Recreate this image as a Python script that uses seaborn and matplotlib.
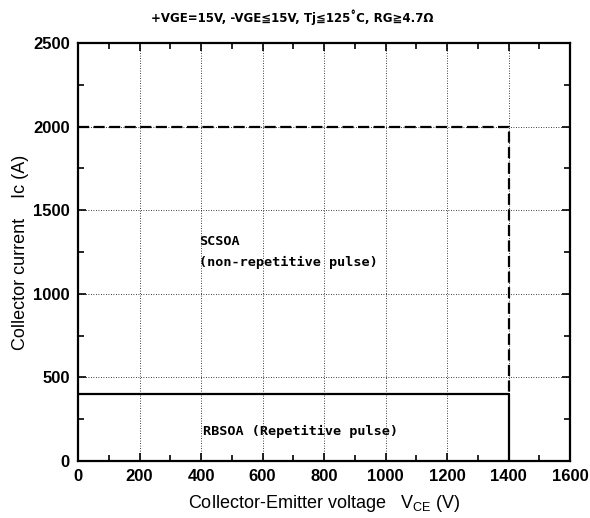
import matplotlib
matplotlib.use('Agg')
import matplotlib.pyplot as plt
import seaborn as sns
import pandas as pd
from matplotlib.ticker import MultipleLocator

# データ (読み取り値)
rbsoa_vce = [0, 1400, 1400]
rbsoa_ic = [400, 400, 0]
scsoa_vce = [0, 1400, 1400]
scsoa_ic = [2000, 2000, 400]

x_ticks = [0, 200, 400, 600, 800, 1000, 1200, 1400, 1600]
y_ticks = [0, 500, 1000, 1500, 2000, 2500]

title_text = '+VGE=15V, -VGE≦15V, Tj≦125˚C, RG≧4.7Ω'

sns.set_theme(style='ticks')
plt.rcParams['font.family'] = ['Liberation Sans', 'DejaVu Sans']
plt.rcParams['text.color'] = 'black'
plt.rcParams['axes.labelcolor'] = 'black'
plt.rcParams['xtick.color'] = 'black'
plt.rcParams['ytick.color'] = 'black'

fig = plt.figure(figsize=(5.9, 5.18), dpi=100)
ax = fig.add_axes([78 / 590, 1 - 461 / 518, 492 / 590, 418 / 518])

rb = pd.DataFrame({'vce': rbsoa_vce, 'ic': rbsoa_ic})
sc = pd.DataFrame({'vce': scsoa_vce, 'ic': scsoa_ic})
sns.lineplot(data=rb, x='vce', y='ic', sort=False, estimator=None,
             color='black', linewidth=1.6, ax=ax)
sns.lineplot(data=sc, x='vce', y='ic', sort=False, estimator=None,
             color='black', linewidth=1.6, linestyle=(0, (5, 2)), ax=ax)

ax.set_xlim(0, 1600)
ax.set_ylim(0, 2500)
ax.set_xticks(x_ticks)
ax.set_yticks(y_ticks)
ax.xaxis.set_minor_locator(MultipleLocator(100))
ax.yaxis.set_minor_locator(MultipleLocator(250))
ax.tick_params(which='both', direction='in', top=True, right=True,
               color='black', width=1.2)
ax.tick_params(which='major', length=6, labelsize=12, pad=6)
ax.tick_params(which='minor', length=4)
for lab in ax.get_xticklabels() + ax.get_yticklabels():
    lab.set_fontweight('bold')
for sp in ax.spines.values():
    sp.set_linewidth(1.6)
    sp.set_color('black')

ax.grid(True, which='major', linestyle=(0, (1, 2)), color='black', linewidth=0.6)

ax.set_xlabel('Collector-Emitter voltage   V$_{\\mathregular{CE}}$ (V)', fontsize=13, labelpad=6)
ax.set_ylabel('Collector current    Ic (A)', fontsize=13, labelpad=3)

mono = ['DejaVu Sans Mono', 'Noto Sans CJK JP']
ax.text(395, 1310, 'SCSOA', fontsize=9.7, fontweight='semibold', family=mono,
        va='center', ha='left')
ax.text(395, 1190, '(non-repetitive pulse)', fontsize=9.7, fontweight='semibold',
        family=mono, va='center', ha='left')
ax.text(405, 175, 'RBSOA (Repetitive pulse)', fontsize=9.7, fontweight='semibold',
        family=mono, va='center', ha='left')

fig.text(292 / 590, 1 - 17 / 518, title_text, fontsize=8.5, fontweight='bold',
         family=['DejaVu Sans', 'Noto Sans CJK JP'], ha='center', va='center')

fig.savefig('out.png', dpi=100)
